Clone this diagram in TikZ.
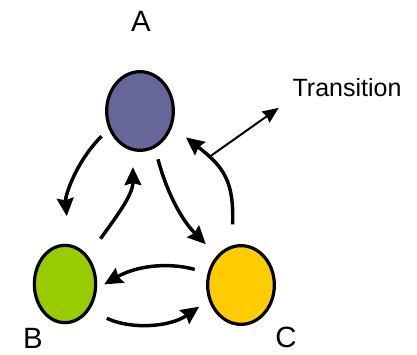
\documentclass[tikz,border=0pt]{standalone}
\usepackage{fontspec}
\setmainfont{Liberation Sans}
\usetikzlibrary{arrows.meta,shapes.geometric}
\definecolor{stA}{HTML}{666699}
\definecolor{stB}{HTML}{99CC00}
\definecolor{stC}{HTML}{FFCC00}
\tikzset{
    state/.style={ellipse,draw=black,line width=2.4pt,inner sep=0pt,
        minimum width=50pt,minimum height=59pt},
    move/.style={line width=2.6pt,-{Stealth[length=13.5pt,width=12.5pt,inset=1.5pt]}},
    lbl/.style={inner sep=0pt,font=\fontsize{22}{26}\selectfont},
}

\begin{document}
\begin{tikzpicture}[x=0.75pt,y=0.75pt]
\useasboundingbox (0,0) rectangle (417,-354);
% the three states
\node[state,fill=stA] (a) at (140,-111) {};
\node[state,fill=stB,minimum width=46pt,minimum height=58pt] (b) at (65,-284) {};
\node[state,fill=stC] (c) at (241,-285) {};
\node[lbl] (la) at (141,-21) {A};
\node[lbl] (lb) at (33,-338) {B};
\node[lbl] (lc) at (286,-337) {C};
\node[inner sep=2pt,font=\fontsize{18.75}{22}\selectfont] (lt) at (347,-88) {Transition};
% moves between them
\draw[move,shorten <=7.5pt,shorten >=21pt] (a.210) to[out=225,in=95] (b.84);
\draw[move,shorten <=16pt,shorten >=12pt] (b.50) to[out=55,in=-90] (a.260);
\draw[move,shorten <=8.7pt,shorten >=11.8pt] (a.292) to[out=-75,in=135] (c.129);
\draw[move,shorten <=15.8pt,shorten >=13pt] (c.103) to[out=88,in=-38,looseness=1.25]
    coordinate[pos=0.7] (t) (a.334);
\draw[move,shorten <=10pt,shorten >=6.2pt] (c.160) to[out=165,in=30] (b.352);
\draw[move,shorten <=14.3pt,shorten >=8.6pt] (b.313) to[out=-25,in=215] (c.205);
\draw[line width=1.5pt,-{Stealth[length=12pt,width=10pt,inset=1pt]},
    shorten <=2pt,shorten >=10pt] (t) -- (lt.south west);
\end{tikzpicture}
\end{document}
